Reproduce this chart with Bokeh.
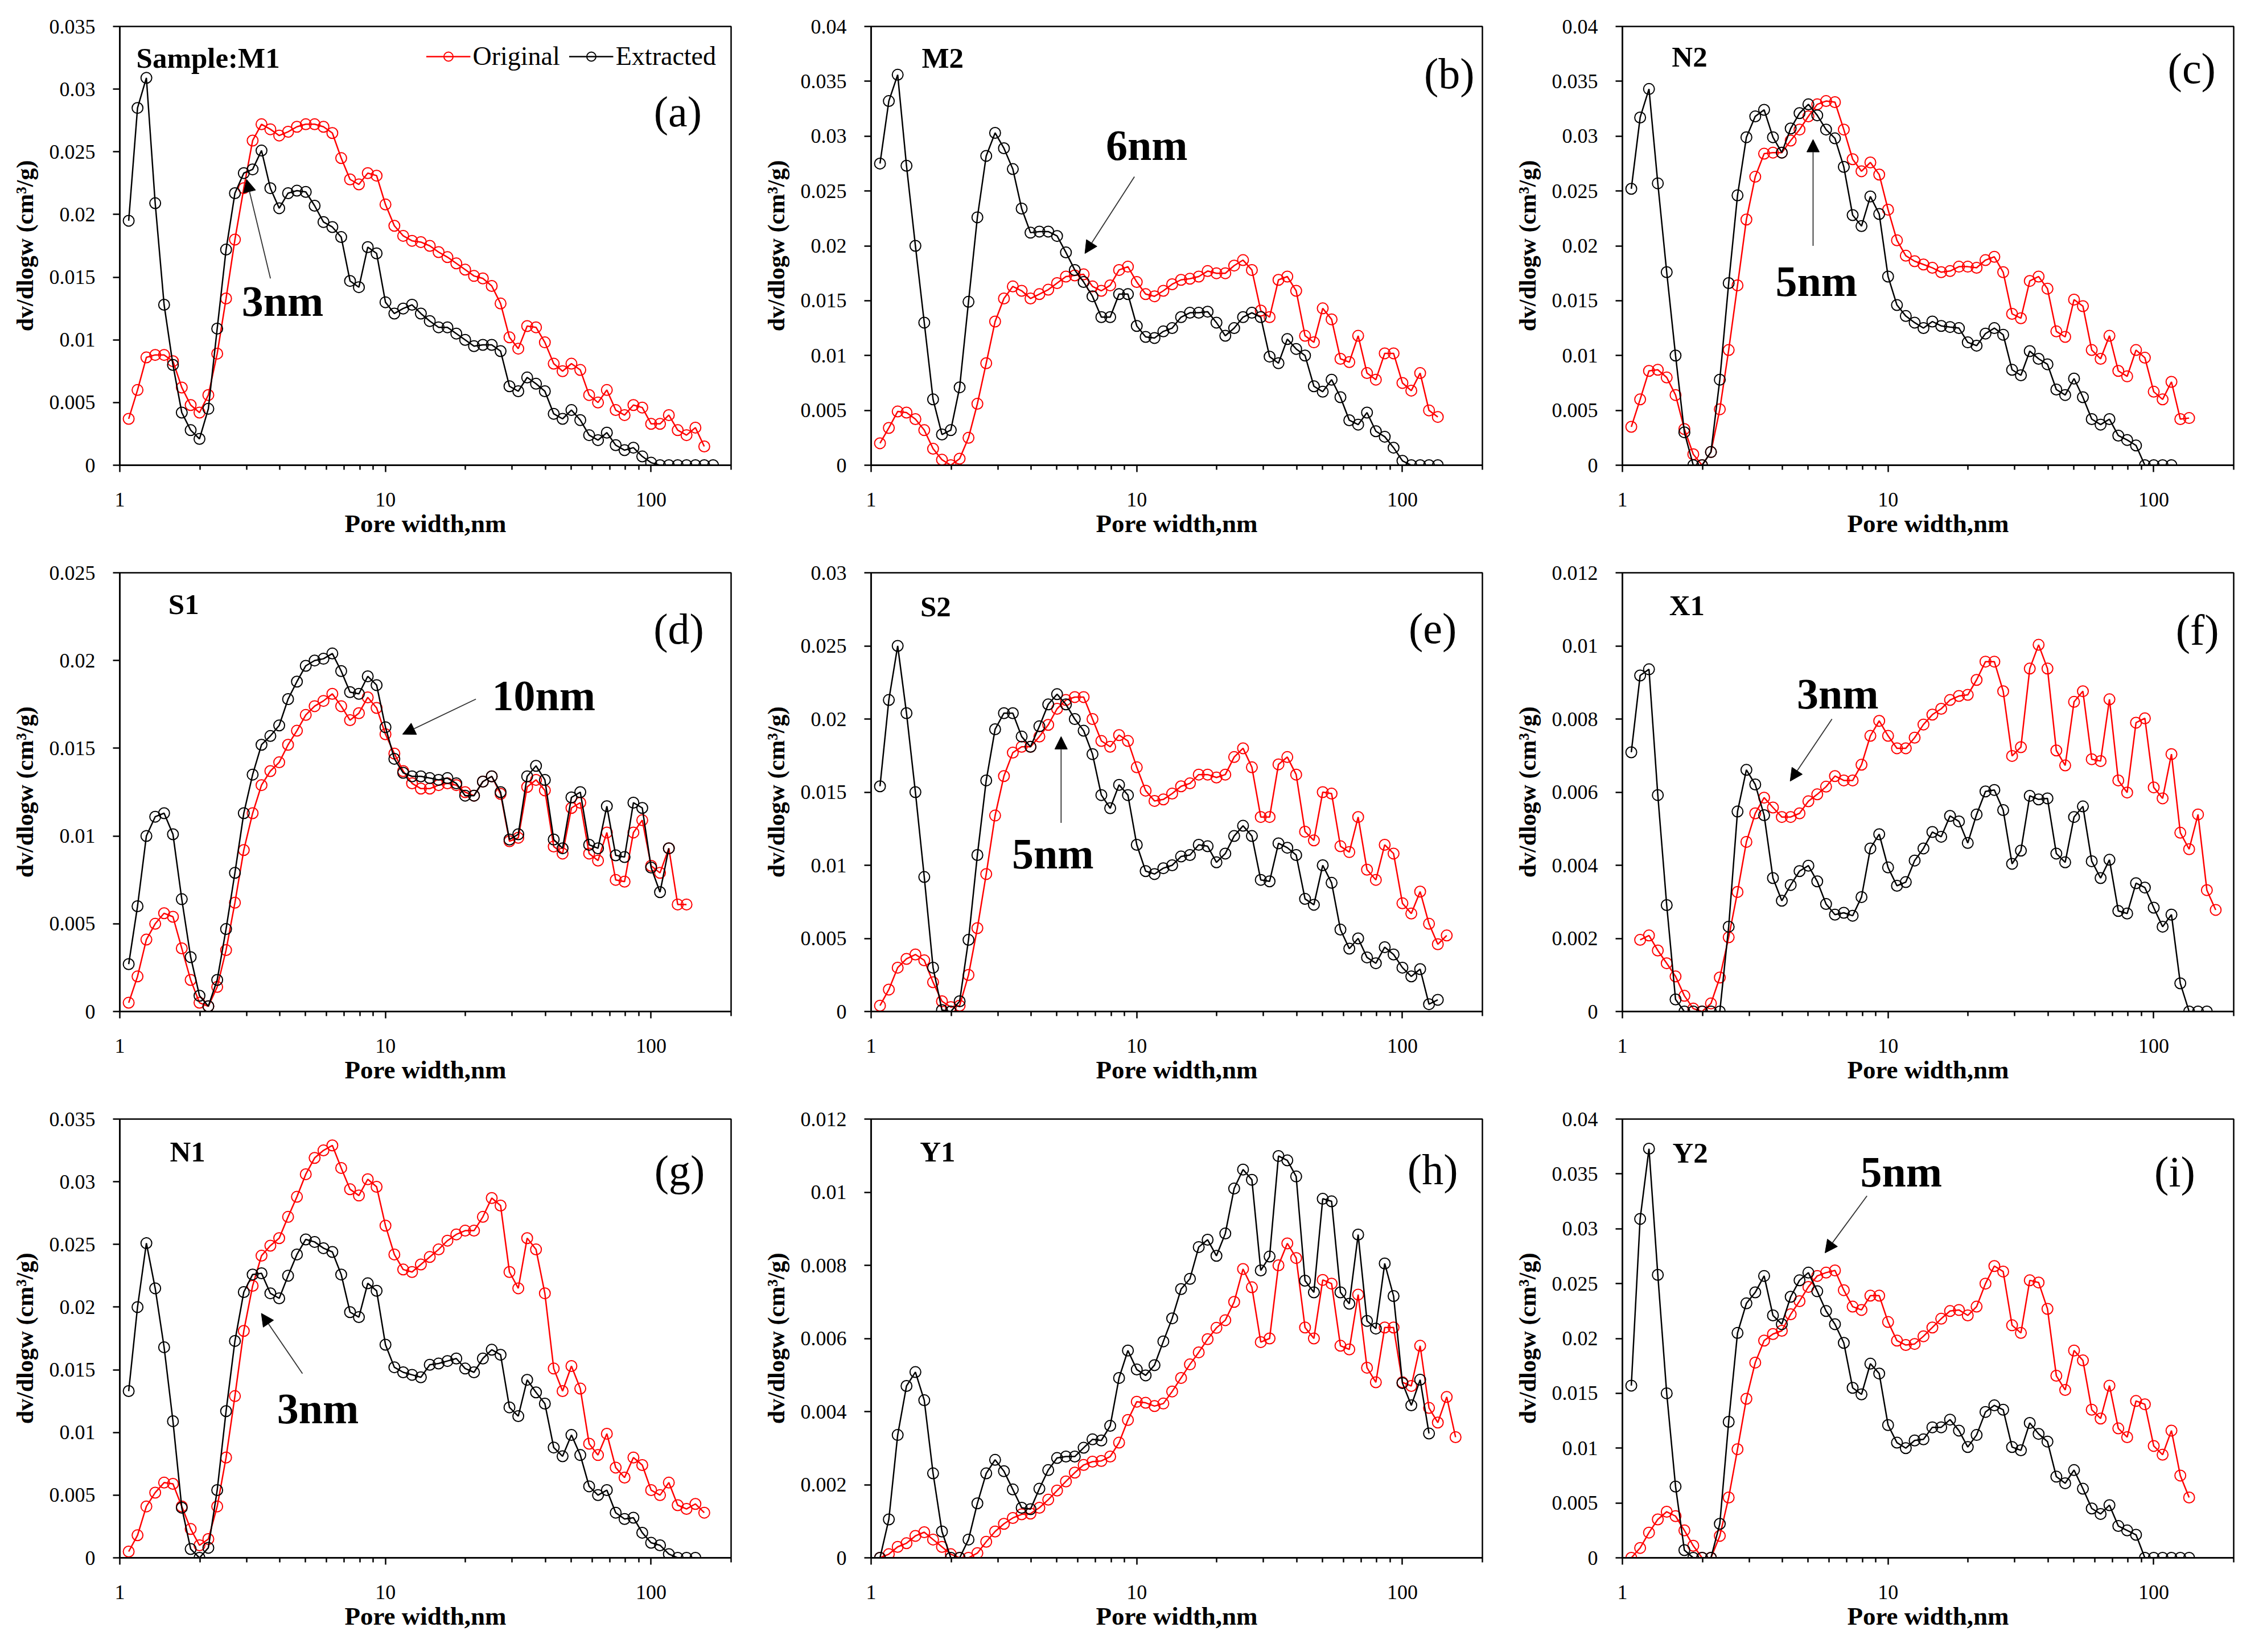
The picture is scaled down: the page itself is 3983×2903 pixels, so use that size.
from bokeh.plotting import figure
from bokeh.layouts import gridplot
from bokeh.models import (FixedTicker, NumeralTickFormatter, CustomJSTickFormatter,
                          Label, Arrow, NormalHead, Legend, LegendItem)
from bokeh.embed import file_html
from bokeh.resources import INLINE

# pore width grid (nm) shared by all curves, point k is PORE_WIDTH[k-1]
PORE_WIDTH = [1.08, 1.166, 1.259, 1.359, 1.468, 1.585, 1.711, 1.848, 1.995, 2.154,
              2.326, 2.512, 2.712, 2.929, 3.162, 3.415, 3.687, 3.981, 4.299, 4.642,
              5.012, 5.412, 5.843, 6.31, 6.813, 7.356, 7.943, 8.577, 9.261, 10.0,
              10.8, 11.66, 12.59, 13.59, 14.68, 15.85, 17.11, 18.48, 19.95, 21.54,
              23.26, 25.12, 27.12, 29.29, 31.62, 34.15, 36.87, 39.81, 42.99, 46.42,
              50.12, 54.12, 58.43, 63.1, 68.13, 73.56, 79.43, 85.77, 92.61, 100.0,
              108.0, 116.6, 125.9, 135.9, 146.8, 158.5, 171.1]

# dv/dlogw (cm3/g)
M1_ORIGINAL = [0.0037, 0.0060, 0.0086, 0.0088, 0.0088, 0.0083, 0.0062, 0.0048, 0.0042, 0.0056,
               0.0089, 0.0133, 0.0180, 0.0221, 0.0259, 0.0272, 0.0268, 0.0263, 0.0266, 0.0270,
               0.0272, 0.0272, 0.0270, 0.0265, 0.0245, 0.0228, 0.0224, 0.0233, 0.0231, 0.0208,
               0.0191, 0.0183, 0.0179, 0.0178, 0.0175, 0.0170, 0.0166, 0.0161, 0.0156, 0.0151,
               0.0149, 0.0143, 0.0129, 0.0102, 0.0093, 0.0111, 0.0110, 0.0098, 0.0081, 0.0075,
               0.0081, 0.0076, 0.0056, 0.0050, 0.0060, 0.0044, 0.0040, 0.0048, 0.0046, 0.0033,
               0.0033, 0.0040, 0.0028, 0.0024, 0.0030, 0.0015]
M1_EXTRACTED = [0.0195, 0.0285, 0.0309, 0.0209, 0.0128, 0.0080, 0.0042, 0.0028, 0.0021, 0.0045,
                0.0109, 0.0172, 0.0217, 0.0233, 0.0236, 0.0251, 0.0221, 0.0205, 0.0217, 0.0219,
                0.0218, 0.0207, 0.0194, 0.0190, 0.0182, 0.0147, 0.0142, 0.0174, 0.0169, 0.0130,
                0.0121, 0.0125, 0.0128, 0.0121, 0.0115, 0.0110, 0.0110, 0.0105, 0.0100, 0.0095,
                0.0096, 0.0096, 0.0091, 0.0063, 0.0059, 0.0070, 0.0065, 0.0059, 0.0041, 0.0037,
                0.0044, 0.0036, 0.0024, 0.0020, 0.0026, 0.0016, 0.0012, 0.0014, 0.0007, 0.0002,
                0, 0, 0, 0, 0, 0, 0]

M2_ORIGINAL = [0.0020, 0.0034, 0.0049, 0.0048, 0.0042, 0.0032, 0.0015, 0.0005, 0.0, 0.0006,
               0.0025, 0.0056, 0.0093, 0.0131, 0.0152, 0.0163, 0.0159, 0.0152, 0.0156, 0.0160,
               0.0166, 0.0172, 0.0173, 0.0174, 0.0163, 0.0159, 0.0164, 0.0178, 0.0181, 0.0167,
               0.0156, 0.0154, 0.0159, 0.0165, 0.0169, 0.0170, 0.0172, 0.0177, 0.0175, 0.0175,
               0.0182, 0.0187, 0.0178, 0.0141, 0.0135, 0.0169, 0.0172, 0.0159, 0.0118, 0.0112,
               0.0143, 0.0133, 0.0097, 0.0094, 0.0118, 0.0084, 0.0078, 0.0102, 0.0102, 0.0075,
               0.0068, 0.0084, 0.0050, 0.0044]
M2_EXTRACTED = [0.0275, 0.0332, 0.0356, 0.0273, 0.0200, 0.0130, 0.0060, 0.0028, 0.0032, 0.0071,
                0.0149, 0.0226, 0.0282, 0.0303, 0.0289, 0.0270, 0.0234, 0.0212, 0.0213, 0.0213,
                0.0209, 0.0194, 0.0178, 0.0167, 0.0154, 0.0135, 0.0135, 0.0156, 0.0156, 0.0127,
                0.0117, 0.0116, 0.0122, 0.0125, 0.0135, 0.0139, 0.0139, 0.0140, 0.0130, 0.0118,
                0.0125, 0.0135, 0.0139, 0.0135, 0.0099, 0.0093, 0.0115, 0.0106, 0.0100, 0.0072,
                0.0067, 0.0078, 0.0062, 0.0041, 0.0037, 0.0048, 0.0031, 0.0026, 0.0016, 0.0004,
                0, 0, 0, 0]

N2_ORIGINAL = [0.0035, 0.0060, 0.0086, 0.0087, 0.0080, 0.0064, 0.0033, 0.0010, 0.0, 0.0012,
               0.0051, 0.0105, 0.0164, 0.0224, 0.0263, 0.0284, 0.0285, 0.0285, 0.0296, 0.0306,
               0.0318, 0.0329, 0.0332, 0.0331, 0.0306, 0.0279, 0.0268, 0.0276, 0.0265, 0.0233,
               0.0205, 0.0191, 0.0186, 0.0183, 0.0180, 0.0176, 0.0177, 0.0181, 0.0181, 0.0180,
               0.0187, 0.0190, 0.0176, 0.0138, 0.0134, 0.0168, 0.0172, 0.0161, 0.0122, 0.0117,
               0.0151, 0.0145, 0.0105, 0.0097, 0.0118, 0.0086, 0.0081, 0.0105, 0.0098, 0.0067,
               0.0060, 0.0076, 0.0042, 0.0043]
N2_EXTRACTED = [0.0252, 0.0317, 0.0343, 0.0257, 0.0176, 0.0100, 0.0030, 0.0, 0.0, 0.0012,
                0.0078, 0.0166, 0.0246, 0.0299, 0.0318, 0.0324, 0.0299, 0.0285, 0.0307, 0.0321,
                0.0329, 0.0319, 0.0306, 0.0298, 0.0272, 0.0228, 0.0218, 0.0245, 0.0229, 0.0172,
                0.0146, 0.0136, 0.0130, 0.0125, 0.0131, 0.0127, 0.0126, 0.0125, 0.0112, 0.0109,
                0.0120, 0.0125, 0.0119, 0.0087, 0.0082, 0.0104, 0.0097, 0.0092, 0.0069, 0.0064,
                0.0079, 0.0062, 0.0042, 0.0037, 0.0042, 0.0027, 0.0023, 0.0018, 0, 0,
                0, 0]

S1_ORIGINAL = [0.0005, 0.0020, 0.0041, 0.0050, 0.0056, 0.0054, 0.0036, 0.0018, 0.0005, 0.0003,
               0.0014, 0.0035, 0.0062, 0.0092, 0.0113, 0.0129, 0.0137, 0.0142, 0.0152, 0.0160,
               0.0169, 0.0174, 0.0177, 0.0181, 0.0174, 0.0166, 0.0170, 0.0179, 0.0173, 0.0158,
               0.0147, 0.0137, 0.0130, 0.0127, 0.0127, 0.0129, 0.0130, 0.0129, 0.0125, 0.0123,
               0.0131, 0.0134, 0.0124, 0.0097, 0.0099, 0.0128, 0.0132, 0.0126, 0.0094, 0.0090,
               0.0116, 0.0119, 0.0090, 0.0086, 0.0102, 0.0075, 0.0074, 0.0102, 0.0109, 0.0083,
               0.0079, 0.0093, 0.0061, 0.0061]
S1_EXTRACTED = [0.0027, 0.0060, 0.0100, 0.0111, 0.0113, 0.0101, 0.0064, 0.0031, 0.0009, 0.0003,
                0.0018, 0.0047, 0.0079, 0.0113, 0.0135, 0.0152, 0.0157, 0.0163, 0.0178, 0.0188,
                0.0197, 0.0200, 0.0201, 0.0204, 0.0194, 0.0182, 0.0181, 0.0191, 0.0186, 0.0162,
                0.0144, 0.0136, 0.0134, 0.0134, 0.0133, 0.0132, 0.0133, 0.0130, 0.0123, 0.0123,
                0.0131, 0.0134, 0.0125, 0.0098, 0.0101, 0.0134, 0.0140, 0.0132, 0.0098, 0.0093,
                0.0122, 0.0125, 0.0095, 0.0093, 0.0117, 0.0089, 0.0088, 0.0119, 0.0116, 0.0082,
                0.0068, 0.0093]

S2_ORIGINAL = [0.0004, 0.0015, 0.0030, 0.0036, 0.0039, 0.0035, 0.0020, 0.0007, 0.0003, 0.0004,
               0.0025, 0.0057, 0.0094, 0.0134, 0.0161, 0.0177, 0.0181, 0.0181, 0.0188, 0.0196,
               0.0207, 0.0213, 0.0215, 0.0215, 0.0200, 0.0185, 0.0181, 0.0189, 0.0185, 0.0167,
               0.0151, 0.0144, 0.0145, 0.0149, 0.0154, 0.0156, 0.0162, 0.0162, 0.0160, 0.0162,
               0.0174, 0.0180, 0.0167, 0.0133, 0.0133, 0.0169, 0.0174, 0.0162, 0.0123, 0.0117,
               0.0150, 0.0149, 0.0113, 0.0109, 0.0133, 0.0097, 0.0090, 0.0114, 0.0108, 0.0074,
               0.0067, 0.0082, 0.0060, 0.0046, 0.0052]
S2_EXTRACTED = [0.0154, 0.0213, 0.0250, 0.0204, 0.0150, 0.0092, 0.0030, 0.0001, 0.0, 0.0007,
                0.0049, 0.0107, 0.0158, 0.0193, 0.0204, 0.0204, 0.0188, 0.0181, 0.0195, 0.0210,
                0.0217, 0.0210, 0.0200, 0.0192, 0.0176, 0.0148, 0.0139, 0.0155, 0.0148, 0.0114,
                0.0096, 0.0094, 0.0098, 0.0100, 0.0106, 0.0107, 0.0114, 0.0113, 0.0102, 0.0108,
                0.0120, 0.0127, 0.0120, 0.0090, 0.0089, 0.0115, 0.0112, 0.0107, 0.0077, 0.0073,
                0.0100, 0.0088, 0.0056, 0.0043, 0.0050, 0.0037, 0.0033, 0.0044, 0.0039, 0.0030,
                0.0024, 0.0029, 0.0005, 0.0008]

X1_ORIGINAL = [0.00196, 0.00208, 0.00167, 0.00132, 0.00096, 0.00043, 0.00008, 0.0, 0.00022, 0.00093,
               0.00203, 0.00327, 0.00464, 0.00542, 0.00585, 0.00558, 0.00532, 0.00532, 0.00542, 0.00575,
               0.00594, 0.00615, 0.00644, 0.00632, 0.00632, 0.00675, 0.00754, 0.00795, 0.00754, 0.0072,
               0.0072, 0.00749, 0.00785, 0.00812, 0.00828, 0.00852, 0.00863, 0.00866, 0.00907, 0.00957,
               0.00957, 0.00876, 0.00699, 0.00723, 0.00938, 0.01003, 0.00938, 0.00714, 0.00673, 0.00847,
               0.00876, 0.0069, 0.00685, 0.00854, 0.00632, 0.00599, 0.0079, 0.00802, 0.00613, 0.00583,
               0.00704, 0.00489, 0.00444, 0.00539, 0.00332, 0.00278]
X1_EXTRACTED = [0.00709, 0.00919, 0.00936, 0.00592, 0.00291, 0.00033, 0.0, 0.0, 0.0, 0.0,
                0.0, 0.00232, 0.00547, 0.00661, 0.00621, 0.00537, 0.00365, 0.00303, 0.00346, 0.00384,
                0.00399, 0.00356, 0.00294, 0.00265, 0.0027, 0.00262, 0.00313, 0.00446, 0.00485, 0.00394,
                0.00344, 0.00354, 0.00413, 0.00446, 0.00491, 0.00478, 0.00535, 0.0052, 0.00461, 0.00539,
                0.00602, 0.00606, 0.00551, 0.00404, 0.0044, 0.0059, 0.0058, 0.00583, 0.00432, 0.00408,
                0.00532, 0.00561, 0.00411, 0.00365, 0.00415, 0.00275, 0.00268, 0.00351, 0.00339, 0.00284,
                0.00232, 0.00265, 0.00077, 0.0, 0.0, 0.0]

N1_ORIGINAL = [0.0005, 0.0018, 0.0041, 0.0052, 0.0060, 0.0059, 0.0041, 0.0023, 0.0010, 0.0015,
               0.0041, 0.0080, 0.0129, 0.0181, 0.0217, 0.0241, 0.0249, 0.0255, 0.0272, 0.0288,
               0.0306, 0.0319, 0.0325, 0.0329, 0.0311, 0.0294, 0.0289, 0.0302, 0.0296, 0.0265,
               0.0242, 0.0230, 0.0228, 0.0234, 0.0240, 0.0246, 0.0253, 0.0258, 0.0261, 0.0261,
               0.0272, 0.0287, 0.0281, 0.0228, 0.0215, 0.0255, 0.0246, 0.0211, 0.0151, 0.0133,
               0.0153, 0.0135, 0.0091, 0.0082, 0.0099, 0.0072, 0.0064, 0.0080, 0.0074, 0.0054,
               0.0050, 0.0060, 0.0042, 0.0039, 0.0043, 0.0036]
N1_EXTRACTED = [0.0133, 0.0200, 0.0251, 0.0215, 0.0168, 0.0109, 0.0040, 0.0007, 0.0, 0.0008,
                0.0054, 0.0117, 0.0173, 0.0212, 0.0226, 0.0227, 0.0211, 0.0207, 0.0225, 0.0242,
                0.0254, 0.0252, 0.0247, 0.0244, 0.0226, 0.0196, 0.0192, 0.0219, 0.0213, 0.0170,
                0.0152, 0.0148, 0.0146, 0.0144, 0.0154, 0.0155, 0.0157, 0.0159, 0.0151, 0.0148,
                0.0159, 0.0166, 0.0162, 0.0120, 0.0113, 0.0142, 0.0132, 0.0123, 0.0088, 0.0081,
                0.0098, 0.0082, 0.0057, 0.0050, 0.0054, 0.0036, 0.0031, 0.0032, 0.0020, 0.0012,
                0.0010, 0.0003, 0.0, 0.0, 0.0]

Y1_ORIGINAL = [0.0, 0.0001, 0.0003, 0.0004, 0.0006, 0.0007, 0.0005, 0.0003, 0.0001, 0.0,
               0.0, 0.00013, 0.00044, 0.00072, 0.00093, 0.00109, 0.00119, 0.00121, 0.00137, 0.00159,
               0.00184, 0.00209, 0.00233, 0.00254, 0.00263, 0.00265, 0.00277, 0.00315, 0.00377, 0.00427,
               0.00424, 0.00415, 0.00422, 0.00455, 0.00492, 0.00529, 0.00562, 0.00598, 0.00629, 0.0065,
               0.0070, 0.0079, 0.0074, 0.0059, 0.0060, 0.0080, 0.0086, 0.0082, 0.0063, 0.0060,
               0.0076, 0.0075, 0.0058, 0.0057, 0.0072, 0.0052, 0.0048, 0.0063, 0.0063, 0.0048,
               0.0047, 0.0058, 0.0041, 0.0037, 0.0044, 0.0033]
Y1_EXTRACTED = [0.0, 0.00105, 0.00336, 0.0047, 0.00508, 0.00431, 0.00231, 0.00072, 0.0, 0.0,
                0.0005, 0.00149, 0.00231, 0.00268, 0.00237, 0.00187, 0.00137, 0.00133, 0.00189, 0.0024,
                0.00273, 0.00277, 0.00277, 0.00301, 0.00324, 0.00321, 0.00361, 0.00492, 0.00567, 0.00515,
                0.00499, 0.00527, 0.00592, 0.00655, 0.00735, 0.00763, 0.0085, 0.0087, 0.00826, 0.00887,
                0.0101, 0.01062, 0.01034, 0.00786, 0.00824, 0.01099, 0.01087, 0.01043, 0.00758, 0.00726,
                0.00982, 0.00975, 0.00726, 0.00695, 0.00884, 0.00648, 0.00627, 0.00805, 0.00716, 0.00478,
                0.00417, 0.00487, 0.0034]

Y2_ORIGINAL = [0.0, 0.0009, 0.0023, 0.0035, 0.0042, 0.0038, 0.0025, 0.0011, 0.0, 0.0,
               0.0020, 0.0055, 0.0099, 0.0145, 0.0178, 0.0198, 0.0204, 0.0207, 0.0222, 0.0234,
               0.0247, 0.0257, 0.0260, 0.0262, 0.0244, 0.0229, 0.0226, 0.0239, 0.0239, 0.0215,
               0.0198, 0.0194, 0.0195, 0.0202, 0.0210, 0.0218, 0.0225, 0.0226, 0.0221, 0.0229,
               0.0250, 0.0266, 0.0261, 0.0212, 0.0205, 0.0253, 0.0251, 0.0227, 0.0166, 0.0153,
               0.0189, 0.0180, 0.0135, 0.0127, 0.0157, 0.0118, 0.0110, 0.0143, 0.0140, 0.0102,
               0.0094, 0.0116, 0.0075, 0.0055]
Y2_EXTRACTED = [0.0157, 0.0309, 0.0373, 0.0258, 0.0150, 0.0065, 0.0007, 0.0, 0.0, 0.0,
                0.0031, 0.0124, 0.0205, 0.0232, 0.0242, 0.0257, 0.0221, 0.0213, 0.0238, 0.0253,
                0.0260, 0.0243, 0.0225, 0.0213, 0.0196, 0.0155, 0.0149, 0.0177, 0.0168, 0.0121,
                0.0105, 0.0100, 0.0107, 0.0108, 0.0119, 0.0119, 0.0126, 0.0116, 0.0101, 0.0112,
                0.0133, 0.0139, 0.0135, 0.0101, 0.0098, 0.0123, 0.0113, 0.0106, 0.0074, 0.0068,
                0.0080, 0.0063, 0.0045, 0.0040, 0.0048, 0.0029, 0.0025, 0.0021, 0.0, 0.0,
                0.0, 0.0, 0.0, 0.0]

RED = "#ff0000"
BLACK = "#000000"
SERIF = "Liberation Serif"

# one entry per panel: data, y axis top, text placements (data coordinates)
PANELS = [
    dict(tag="(a)", sample="Sample:M1", ymax=0.035, ystep=0.005,
         orig=M1_ORIGINAL, orig_k=1, extr=M1_EXTRACTED, extr_k=1,
         sample_at=(2.15, 0.0325), tag_at=(126, 0.0282),
         note="3nm", note_at=(4.1, 0.0131), arrow=(3.69, 0.0149, 3.0, 0.0228), legend=True),
    dict(tag="(b)", sample="M2", ymax=0.04, ystep=0.005,
         orig=M2_ORIGINAL, orig_k=1, extr=M2_EXTRACTED, extr_k=1,
         sample_at=(1.86, 0.0371), tag_at=(150, 0.0357),
         note="6nm", note_at=(10.9, 0.0292), arrow=(9.8, 0.0263, 6.38, 0.0193)),
    dict(tag="(c)", sample="N2", ymax=0.04, ystep=0.005,
         orig=N2_ORIGINAL, orig_k=1, extr=N2_EXTRACTED, extr_k=1,
         sample_at=(1.79, 0.0372), tag_at=(139, 0.0362),
         note="5nm", note_at=(5.37, 0.0168), arrow=(5.22, 0.0200, 5.22, 0.0297)),
    dict(tag="(d)", sample="S1", ymax=0.025, ystep=0.005,
         orig=S1_ORIGINAL, orig_k=1, extr=S1_EXTRACTED, extr_k=1,
         sample_at=(1.74, 0.0232), tag_at=(127, 0.0218),
         note="10nm", note_at=(39.4, 0.0180), arrow=(21.9, 0.0178, 11.6, 0.0158)),
    dict(tag="(e)", sample="S2", ymax=0.03, ystep=0.005,
         orig=S2_ORIGINAL, orig_k=1, extr=S2_EXTRACTED, extr_k=1,
         sample_at=(1.75, 0.0277), tag_at=(130, 0.0262),
         note="5nm", note_at=(4.83, 0.0108), arrow=(5.19, 0.0129, 5.19, 0.0188)),
    dict(tag="(f)", sample="X1", ymax=0.012, ystep=0.002,
         orig=X1_ORIGINAL, orig_k=2, extr=X1_EXTRACTED, extr_k=1,
         sample_at=(1.75, 0.0111), tag_at=(146, 0.01043),
         note="3nm", note_at=(6.46, 0.0087), arrow=(6.15, 0.0080, 4.28, 0.0063)),
    dict(tag="(g)", sample="N1", ymax=0.035, ystep=0.005,
         orig=N1_ORIGINAL, orig_k=1, extr=N1_EXTRACTED, extr_k=1,
         sample_at=(1.80, 0.0324), tag_at=(128, 0.0309),
         note="3nm", note_at=(5.57, 0.0119), arrow=(4.87, 0.0147, 3.41, 0.0195)),
    dict(tag="(h)", sample="Y1", ymax=0.012, ystep=0.002,
         orig=Y1_ORIGINAL, orig_k=1, extr=Y1_EXTRACTED, extr_k=1,
         sample_at=(1.78, 0.0111), tag_at=(130, 0.01062),
         note=None),
    dict(tag="(i)", sample="Y2", ymax=0.04, ystep=0.005,
         orig=Y2_ORIGINAL, orig_k=1, extr=Y2_EXTRACTED, extr_k=1,
         sample_at=(1.80, 0.0369), tag_at=(120, 0.0352),
         note="5nm", note_at=(11.2, 0.0352), arrow=(8.33, 0.0330, 5.79, 0.0278)),
]

y_fmt = CustomJSTickFormatter(code="""
    var s = tick.toFixed(3).replace(/0+$/, '');
    return s.replace(/\\.$/, '');
""")


def text_label(x, y, text, size, style="normal"):
    return Label(x=x, y=y, text=text, text_font=SERIF, text_font_size=size,
                 text_font_style=style, text_color="black",
                 text_align="center", text_baseline="middle")


def make_panel(cfg):
    p = figure(width=1320, height=960, x_axis_type="log", x_range=(1, 200),
               y_range=(0, cfg["ymax"]), output_backend="svg", toolbar_location=None,
               min_border_left=210, min_border_right=36, min_border_top=46,
               min_border_bottom=143)
    p.xgrid.grid_line_color = None
    p.ygrid.grid_line_color = None
    p.outline_line_color = "black"
    p.outline_line_width = 2.5
    p.outline_line_alpha = 1.0

    p.xaxis.ticker = FixedTicker(ticks=[1, 10, 100],
                                 minor_ticks=[2, 3, 4, 5, 6, 7, 8, 9, 20, 30, 40, 50,
                                              60, 70, 80, 90, 200])
    p.xaxis.formatter = NumeralTickFormatter(format="0")
    n = int(round(cfg["ymax"] / cfg["ystep"]))
    p.yaxis.ticker = FixedTicker(ticks=[round(i * cfg["ystep"], 4) for i in range(n + 1)],
                                 minor_ticks=[])
    p.yaxis.formatter = y_fmt

    for ax in (p.xaxis[0], p.yaxis[0]):
        ax.axis_line_width = 2.5
        ax.major_tick_line_width = 2.5
        ax.minor_tick_line_width = 2.5
        ax.major_tick_in = 0
        ax.major_tick_out = 12
        ax.major_label_text_font = SERIF
        ax.major_label_text_font_size = "36px"
        ax.major_label_text_color = "black"
        ax.axis_label_text_font = SERIF
        ax.axis_label_text_font_style = "bold"
        ax.axis_label_text_color = "black"
    p.xaxis.axis_label_text_font_size = "45px"
    p.yaxis.axis_label_text_font_size = "42px"
    p.xaxis.minor_tick_in = 0
    p.xaxis.minor_tick_out = 8
    p.yaxis.minor_tick_out = 0
    p.xaxis.major_label_standoff = 36
    p.yaxis.major_label_standoff = 31
    p.xaxis.axis_label_standoff = 2
    p.yaxis.axis_label_standoff = 17
    p.xaxis.axis_label = "Pore width,nm"
    p.yaxis.axis_label = "dv/dlogw (cm³/g)"

    xo = PORE_WIDTH[cfg["orig_k"] - 1: cfg["orig_k"] - 1 + len(cfg["orig"])]
    xe = PORE_WIDTH[cfg["extr_k"] - 1: cfg["extr_k"] - 1 + len(cfg["extr"])]
    lo = p.line(xo, cfg["orig"], line_color=RED, line_width=2.5)
    so = p.scatter(xo, cfg["orig"], marker="circle", size=19, fill_color=None,
                   line_color=RED, line_width=2)
    le = p.line(xe, cfg["extr"], line_color=BLACK, line_width=2.5)
    se = p.scatter(xe, cfg["extr"], marker="circle", size=19, fill_color=None,
                   line_color=BLACK, line_width=2)

    if cfg.get("legend"):
        legend = Legend(items=[LegendItem(label="Original", renderers=[lo, so]),
                               LegendItem(label="Extracted", renderers=[le, se])],
                        orientation="horizontal", location="top_right",
                        label_text_font=SERIF, label_text_font_size="46px",
                        label_text_color="black",
                        glyph_width=78, glyph_height=40, spacing=16, padding=2,
                        margin=24, label_standoff=4,
                        border_line_alpha=0, background_fill_alpha=0)
        p.add_layout(legend)

    sx, sy = cfg["sample_at"]
    p.add_layout(text_label(sx, sy, cfg["sample"], "51px", "bold"))
    tx, ty = cfg["tag_at"]
    p.add_layout(text_label(tx, ty, cfg["tag"], "76px"))
    if cfg.get("note"):
        nx, ny = cfg["note_at"]
        p.add_layout(text_label(nx, ny, cfg["note"], "76px", "bold"))
        x0, y0, x1, y1 = cfg["arrow"]
        p.add_layout(Arrow(x_start=x0, y_start=y0, x_end=x1, y_end=y1,
                           line_color="#333333", line_width=1.8,
                           end=NormalHead(size=22, fill_color="black",
                                          line_color="black")))
    return p


figs = [make_panel(c) for c in PANELS]
grid = gridplot([figs[0:3], figs[3:6], figs[6:9]], toolbar_location=None)

open("out.html", "w").write(file_html(grid, INLINE, title="Pore size distributions"))
